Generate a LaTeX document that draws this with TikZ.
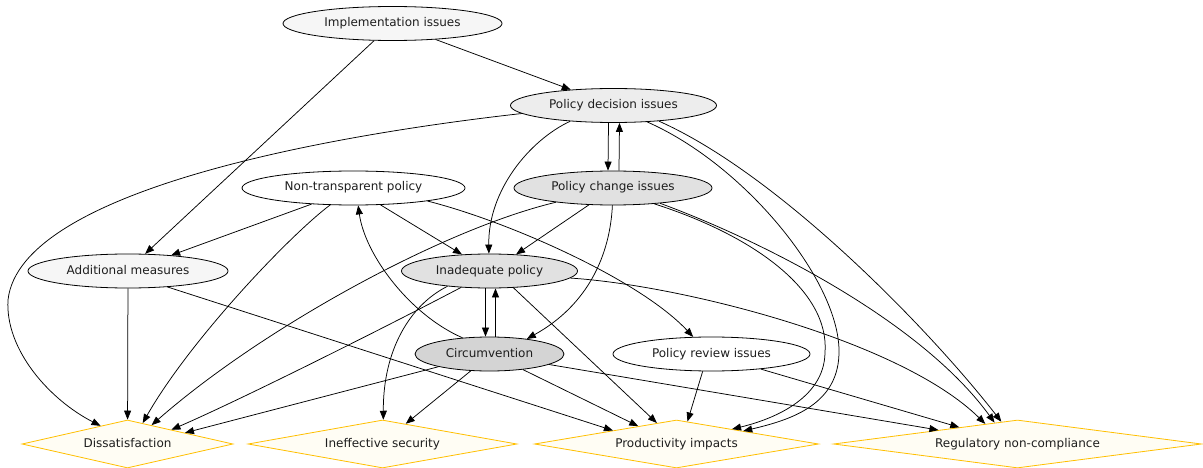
\documentclass[tikz,border=0pt]{standalone}
\usepackage{fontspec}
\setmainfont{DejaVu Sans}
\usetikzlibrary{shapes.geometric,arrows.meta}
\definecolor{dborder}{HTML}{FFBF00}
\definecolor{dfill}{HTML}{FFFDF4}
\definecolor{fa}{HTML}{F6F6F6}
\definecolor{fb}{HTML}{EDEDED}
\definecolor{fc}{HTML}{E1E1E1}
\definecolor{fd}{HTML}{D4D4D4}
\definecolor{txt}{HTML}{1E1E1E}
\begin{document}
\begin{tikzpicture}[x=1pt,y=-1pt,
  font=\fontsize{12}{14}\selectfont,
  ell/.style={ellipse, draw=black, text=txt, line width=0.8pt, inner sep=0pt, minimum height=34pt, text height=9pt, text depth=3pt},
  dia/.style={diamond, draw=dborder, fill=dfill, text=txt, line width=0.8pt, inner sep=0pt, aspect=4, minimum height=48pt, text height=9pt, text depth=3pt},
  arr/.style={-{Triangle[length=9pt,width=7pt]}, line width=0.75pt}]
\useasboundingbox (0,0) rectangle (1203,468);
% nodes
\node[ell, fill=fa, minimum width=219pt] (ii) at (392.5,23.5) {\makebox[0pt]{Implementation issues}};
\node[ell, fill=fb, minimum width=206pt] (pdi) at (613.5,105.5) {\makebox[0pt]{Policy decision issues}};
\node[ell, fill=white, minimum width=223pt] (ntp) at (353.5,188) {\makebox[0pt]{Non-transparent policy}};
\node[ell, fill=fc, minimum width=198pt] (pci) at (613,188) {\makebox[0pt]{Policy change issues}};
\node[ell, fill=fa, minimum width=200pt] (am) at (128,271) {\makebox[0pt]{Additional measures}};
\node[ell, fill=fc, minimum width=176pt] (ip) at (489.5,271) {\makebox[0pt]{Inadequate policy}};
\node[ell, fill=fd, minimum width=149pt] (c) at (489.5,354) {\makebox[0pt]{Circumvention}};
\node[ell, fill=white, minimum width=197pt] (pri) at (711.5,354) {\makebox[0pt]{Policy review issues}};
\node[dia, minimum width=211pt] (d) at (127.5,444) {\makebox[0pt]{Dissatisfaction}};
\node[dia, minimum width=269pt] (is) at (382.5,444) {\makebox[0pt]{Ineffective security}};
\node[dia, minimum width=284pt] (pi) at (676.5,444) {\makebox[0pt]{Productivity impacts}};
\node[dia, minimum width=368pt] (rnc) at (1017.5,444) {\makebox[0pt]{Regulatory non-compliance}};
% edges
\draw[arr] (ii) -- (pdi);
\draw[arr] (ii.223) -- (am.45);
\draw[arr] (pdi.185) .. controls (330,135) and (20,190) .. (8,300) .. controls (5,350) and (50,400) .. (d.146);
\draw[arr] ([xshift=-5pt]pdi.south) -- ([xshift=-5pt]pci.north);
\draw[arr] ([xshift=6pt]pci.north) -- ([xshift=6pt]pdi.south);
\draw[arr] (pdi.200) .. controls (530,140) and (488,190) .. (ip.92);
\draw[arr] (pdi.334) .. controls (745,165) and (838,280) .. (839,350) .. controls (840,405) and (790,420) .. (pi.11);
\draw[arr] (pdi.341) .. controls (780,175) and (930,330) .. (rnc.126);
\draw[arr] (pci.339) .. controls (752,235) and (830,290) .. (825,353) .. controls (824,400) and (770,420) .. (pi.15);
\draw[arr] (pci.342) .. controls (760,240) and (920,320) .. (rnc.137);
\draw[arr] (pci.194) .. controls (440,230) and (260,330) .. (d.38);
\draw[arr] (pci.215) -- (ip.32);
\draw[arr] (pci.268) .. controls (610,255) and (588,305) .. (c.22);
\draw[arr] (ntp.201) -- (am.20);
\draw[arr] (ntp.328) -- (ip.149);
\draw[arr] (ntp.216) .. controls (290,235) and (190,340) .. (d.54);
\draw[arr] (ntp.350) .. controls (510,222) and (640,280) .. (pri.137);
\draw[arr] (am) -- (d);
\draw[arr] (am.338) -- (pi.168);
\draw[arr] ([xshift=-4pt]ip.south) -- ([xshift=-4pt]c.north);
\draw[arr] ([xshift=6pt]c.north) -- ([xshift=6pt]ip.south);
\draw[arr] (ip.210) .. controls (380,330) and (240,400) .. (d.18);
\draw[arr] (ip.200) .. controls (410,305) and (383,350) .. (is.88);
\draw[arr] (ip.325) -- (pi.133);
\draw[arr] (ip.355) .. controls (680,285) and (900,340) .. (rnc.148);
\draw[arr] (c.194) -- (d.11);
\draw[arr] (c.222) -- (is.41);
\draw[arr] (c.335) -- (pi.155);
\draw[arr] (c.350) -- (rnc.170);
\draw[arr] (c.149) .. controls (410,315) and (365,255) .. (ntp.285);
\draw[arr] (pri.243) -- (pi.64);
\draw[arr] (pri.343) -- (rnc.164);
\end{tikzpicture}
\end{document}
